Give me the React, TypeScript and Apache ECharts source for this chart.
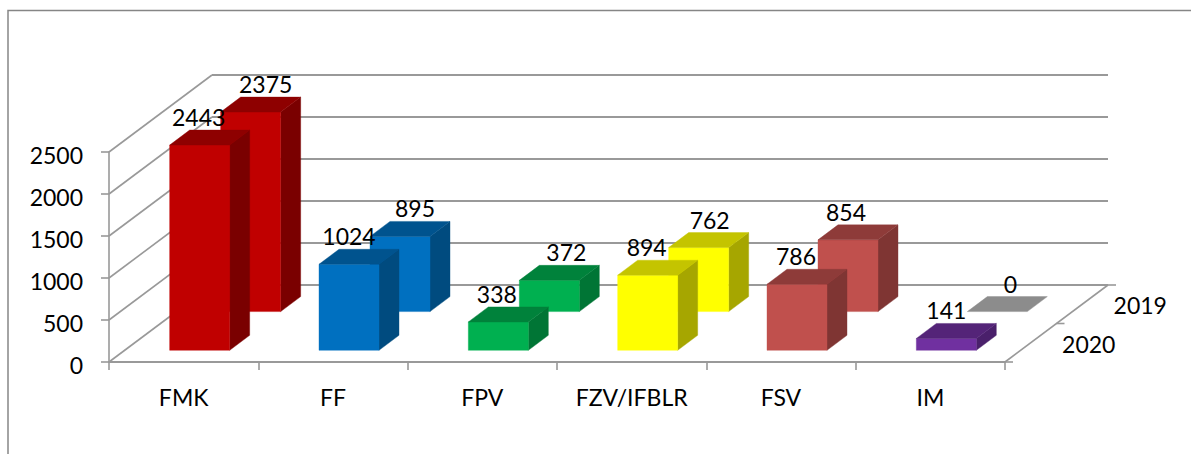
import React, { useEffect, useRef } from "react";
import * as echarts from "echarts";

const categories = ["FMK", "FF", "FPV", "FZV/IFBLR", "FSV", "IM"];
const values2020 = [2443, 1024, 338, 894, 786, 141];
const values2019 = [2375, 895, 372, 762, 854, 0];
const yTicks = [0, 500, 1000, 1500, 2000, 2500];
const depthLabels = ["2020", "2019"];

const faceColors = ["#C00000", "#0070C0", "#00B050", "#FFFF00", "#C0504D", "#7030A0"];
const topColors = ["#8E0000", "#00538E", "#00823B", "#C4C400", "#8E3B39", "#542478"];
const sideColors = ["#7A0000", "#004B7F", "#007535", "#A6A600", "#7F3533", "#4A206B"];
const zeroColor = "#8C8C8C";

const FONT = "Lato";
const GRID_COLOR = "#999999";
const WALL_DX = 103;
const WALL_DY = -77;
const BAR_HALF = 30;
const BAR_DX = 20;
const BAR_DY = -15;
const ROW_FRONT = { dx: 16, dy: -11.7 };
const ROW_BACK = { dx: 67, dy: -50.4 };
const LABEL_NUDGE_FRONT = [-1, 0, -1.5, -1, -1, 0];
const LABEL_NUDGE_BACK = [15, 15, 17, 11, -2, 13];

function barRenderer(row: { dx: number; dy: number }, nudge: number[]) {
  return (params: any, api: any) => {
    const idx = api.value(0);
    const val = api.value(1);
    const top = api.coord([idx, val]);
    const base = api.coord([idx, 0]);
    const cx = top[0] + row.dx;
    const l = cx - BAR_HALF;
    const r = cx + BAR_HALF;
    const yTop = top[1] + row.dy;
    const yBase = base[1] + row.dy;
    const children: any[] = [];
    const stroke = (c: string) => ({ fill: c, stroke: c, lineWidth: 0.4 });
    if (val > 0) {
      children.push({
        type: "polygon",
        shape: { points: [[r, yTop], [r + BAR_DX, yTop + BAR_DY], [r + BAR_DX, yBase + BAR_DY], [r, yBase]] },
        style: stroke(sideColors[idx]),
      });
      children.push({
        type: "polygon",
        shape: { points: [[l, yTop], [r, yTop], [r, yBase], [l, yBase]] },
        style: stroke(faceColors[idx]),
      });
    }
    children.push({
      type: "polygon",
      shape: { points: [[l, yTop], [r, yTop], [r + BAR_DX, yTop + BAR_DY], [l + BAR_DX, yTop + BAR_DY]] },
      style: stroke(val > 0 ? topColors[idx] : zeroColor),
    });
    children.push({
      type: "text",
      style: {
        text: String(val),
        x: cx + nudge[idx],
        y: yTop + BAR_DY - 13,
        align: "center",
        verticalAlign: "middle",
        font: `23px ${FONT}`,
        fill: "#000000",
      },
    });
    return { type: "group", children };
  };
}

function wallRenderer(params: any, api: any) {
  const v = api.value(0);
  const p = api.coord([0, v]);
  const band = api.size([1, 0])[0];
  const left = p[0] - band / 2;
  const right = left + band * categories.length;
  const lineStyle = { stroke: GRID_COLOR, lineWidth: 2 };
  const children: any[] = [
    {
      type: "line",
      shape: { x1: left, y1: p[1], x2: left + WALL_DX, y2: p[1] + WALL_DY },
      style: { stroke: GRID_COLOR, lineWidth: 1.6 },
    },
    {
      type: "line",
      shape: { x1: left + WALL_DX, y1: p[1] + WALL_DY, x2: right + WALL_DX, y2: p[1] + WALL_DY },
      style: lineStyle,
    },
  ];
  if (v === 0) {
    children.push({
      type: "line",
      shape: { x1: right, y1: p[1], x2: right + WALL_DX, y2: p[1] + WALL_DY },
      style: { stroke: GRID_COLOR, lineWidth: 1.6 },
    });
    [0, 0.5, 1].forEach((t) => {
      const tx = right + WALL_DX * t;
      const ty = p[1] + WALL_DY * t;
      children.push({
        type: "line",
        shape: { x1: tx, y1: ty, x2: tx + 8, y2: ty },
        style: { stroke: GRID_COLOR, lineWidth: 1.6 },
      });
    });
    depthLabels.forEach((label, i) => {
      const t = 0.25 + i * 0.5;
      children.push({
        type: "text",
        style: {
          text: label,
          x: right + WALL_DX * t + 58,
          y: p[1] + WALL_DY * t + 1,
          align: "center",
          verticalAlign: "middle",
          font: `23px ${FONT}`,
          fill: "#000000",
        },
      });
    });
  }
  return { type: "group", children };
}

export default function App() {
  const ref = useRef<HTMLDivElement>(null);
  useEffect(() => {
    if (!ref.current) return;
    const chart = echarts.init(ref.current, undefined, { renderer: "svg" });
    chart.setOption({
      animation: false,
      backgroundColor: "#FFFFFF",
      textStyle: { fontFamily: FONT },
      grid: { left: 109, top: 152, width: 896, height: 210, containLabel: false },
      xAxis: {
        type: "category",
        data: categories,
        boundaryGap: true,
        axisLine: { show: true, lineStyle: { color: GRID_COLOR, width: 2 } },
        axisTick: { show: true, length: 8, lineStyle: { color: GRID_COLOR, width: 1.6 } },
        axisLabel: { color: "#000000", fontSize: 23, fontFamily: FONT, margin: 23, interval: 0 },
        splitLine: { show: false },
      },
      yAxis: {
        type: "value",
        min: 0,
        max: 2500,
        interval: 500,
        axisLine: { show: true, lineStyle: { color: GRID_COLOR, width: 1.6 } },
        axisTick: { show: true, length: 8, lineStyle: { color: GRID_COLOR, width: 1.6 } },
        axisLabel: {
          color: "#000000",
          fontSize: 23,
          fontFamily: FONT,
          margin: 26,
          verticalAlign: "top",
          lineHeight: 5,
          formatter: (v: number) => (yTicks.includes(v) ? String(v) : ""),
        },
        splitLine: { show: false },
      },
      graphic: [
        {
          type: "polyline",
          shape: { points: [[8, 454], [8, 10.5], [1191, 10.5]] },
          style: { stroke: "#868686", fill: "none", lineWidth: 1.5 },
          silent: true,
        },
      ],
      series: [
        {
          type: "custom",
          name: "wall",
          silent: true,
          z: 1,
          clip: false,
          renderItem: wallRenderer,
          encode: { y: 0 },
          data: yTicks.map((v) => [v]),
        },
        {
          type: "custom",
          name: "2019",
          silent: true,
          z: 2,
          clip: false,
          renderItem: barRenderer(ROW_BACK, LABEL_NUDGE_BACK),
          encode: { x: 0, y: 1 },
          data: values2019.map((v, i) => [i, v]),
        },
        {
          type: "custom",
          name: "2020",
          silent: true,
          z: 3,
          clip: false,
          renderItem: barRenderer(ROW_FRONT, LABEL_NUDGE_FRONT),
          encode: { x: 0, y: 1 },
          data: values2020.map((v, i) => [i, v]),
        },
      ],
    });
    return () => chart.dispose();
  }, []);
  return (
    <div
      ref={ref}
      style={{ position: "absolute", left: 0, top: 0, width: 1191, height: 454 }}
    />
  );
}
